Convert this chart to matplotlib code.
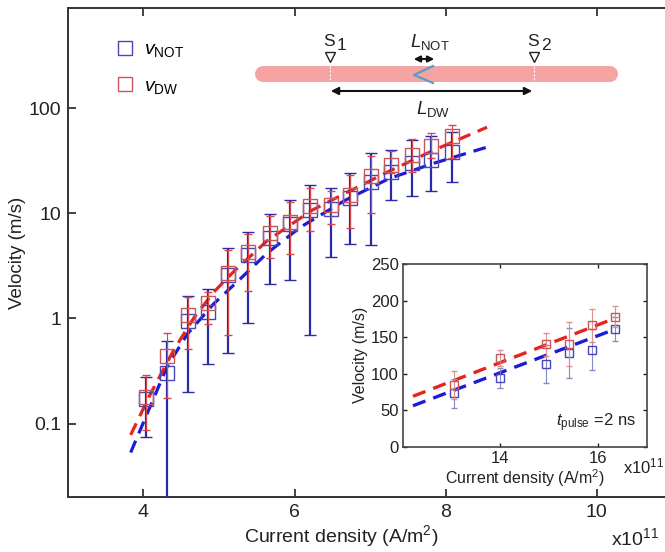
import numpy as np
import matplotlib
matplotlib.use("Agg")
import matplotlib.pyplot as plt
from matplotlib.lines import Line2D

plt.rcParams['font.family'] = ['Liberation Sans', 'DejaVu Sans']
plt.rcParams['mathtext.fontset'] = 'custom'
plt.rcParams['mathtext.rm'] = 'Liberation Sans'
plt.rcParams['mathtext.it'] = 'Liberation Sans:italic'

# ---- main panel data (current density in 1e11 A/m^2, velocity in m/s) ----
j_main = [4.03, 4.31, 4.59, 4.86, 5.12, 5.39, 5.67, 5.94, 6.20, 6.48, 6.74, 7.01, 7.28, 7.55, 7.81, 8.08]
v_dw   = [0.18, 0.44, 1.07, 1.39, 2.7, 4.3, 6.45, 8.3, 11.7, 12.0, 15.0, 22.5, 28.6, 35.7, 43.4, 54.0]
dw_hi  = [0.29, 0.72, 1.6, 1.8, 4.5, 6.3, 9.4, 12.8, 17.5, 16.5, 23.0, 35.0, 39.0, 51.0, 58.0, 70.0]
dw_lo  = [0.086, 0.176, 0.51, 0.89, 0.70, 1.82, 3.75, 4.07, 6.8, 8.0, 7.2, 10.0, 24.0, 25.0, 34.0, 34.0]
v_not  = [0.17, 0.30, 0.95, 1.15, 2.6, 4.0, 5.8, 8.0, 10.7, 11.0, 14.0, 20.0, 25.0, 30.0, 32.0, 38.0]
not_hi = [0.28, 0.61, 1.65, 1.89, 4.7, 6.6, 9.8, 13.3, 18.5, 17.6, 24.2, 37.3, 40.5, 50.3, 54.0, 59.0]
not_lo = [0.074, 0.005, 0.2, 0.365, 0.47, 0.91, 2.14, 2.33, 0.70, 3.83, 5.06, 5.0, 13.3, 14.5, 16.2, 19.9]

# fit curves
fit_j_dw  = [3.83, 4.09, 4.40, 4.67, 4.93, 5.20, 5.64, 6.23, 6.67, 7.25, 7.84, 8.55]
fit_v_dw  = [0.078, 0.19, 0.50, 1.02, 1.78, 2.82, 5.5, 10.7, 15.5, 25.1, 39.8, 66.0]
fit_j_not = [3.83, 4.31, 4.58, 4.93, 5.26, 5.64, 6.08, 6.67, 7.25, 7.84, 8.55]
fit_v_not = [0.053, 0.345, 0.71, 1.38, 2.3, 4.2, 7.4, 13.3, 21.4, 29.9, 42.7]

# ---- inset data (t_pulse = 2 ns) ----
j_ins     = [13.06, 14.0, 14.94, 15.41, 15.88, 16.36]
v_dw_ins  = [84, 121, 140, 140, 166, 178]
e_dw_ins  = [19, 11, 16, 30, 23, 14]
v_not_ins = [73, 94, 113, 128, 133, 161]
e_not_ins = [20, 14, 26, 34, 28, 17]
fit_j_ins     = [12.21, 16.36]
fit_v_dw_ins  = [69, 176]
fit_v_not_ins = [56, 161]

BLUE_LINE, BLUE_ERR, BLUE_MK = '#1c1cd8', '#2a2aa6', '#4646b4'
RED_LINE, RED_ERR, RED_MK = '#e8221e', '#d84848', '#cc5555'
W, H = 665, 552

fig = plt.figure(figsize=(W / 100, H / 100), dpi=100)

def fx(px):
    return px / W

def fy(py):
    return 1 - py / H

ax = fig.add_axes([fx(68), fy(497), fx(665) - fx(68), fy(8) - fy(497)])
ax.set_yscale('log')

ax.plot(fit_j_not, fit_v_not, '--', color=BLUE_LINE, lw=2.3, dashes=(4, 2.5), zorder=2)
ax.plot(fit_j_dw, fit_v_dw, '--', color=RED_LINE, lw=2.3, dashes=(4, 2.5), zorder=2)

v_not_a = np.array(v_not)
v_dw_a = np.array(v_dw)
ax.errorbar(j_main, v_not, yerr=[v_not_a - np.array(not_lo), np.array(not_hi) - v_not_a],
            fmt='s', ms=10, mfc='none', mec=BLUE_MK, mew=1.0, ecolor=BLUE_ERR,
            elinewidth=1.6, capsize=4, capthick=1.8, zorder=3)
ax.errorbar(j_main, v_dw, yerr=[v_dw_a - np.array(dw_lo), np.array(dw_hi) - v_dw_a],
            fmt='s', ms=10, mfc='none', mec=RED_MK, mew=1.0, ecolor=RED_ERR,
            elinewidth=0.8, capsize=3, capthick=1.0, zorder=4)

ax.set_xlim(3, 3 + (665 - 68) / 75.5)
ax.set_ylim(0.02, 900)
ax.set_xticks([4, 6, 8, 10])
ax.set_xticklabels(['4', '6', '8', '10'])
ax.set_yticks([0.1, 1, 10, 100])
ax.set_yticklabels(['0.1', '1', '10', '100'])
ax.minorticks_off()
ax.tick_params(direction='in', top=True, right=False, length=6, width=1.2,
               labelsize=14, colors='#222222', pad=5)
ax.spines['right'].set_visible(False)
for s in ['left', 'bottom', 'top']:
    ax.spines[s].set_linewidth(1.4)
    ax.spines[s].set_color('#333333')
ax.set_ylabel('Velocity (m/s)', fontsize=13.5, color='#222222', labelpad=2)
ax.set_xlabel('Current density (A/m$^2$)', fontsize=14, color='#222222')
ax.xaxis.set_label_coords(0.457, -0.054)
fig.text(fx(611), fy(538), r'x10$^{11}$', fontsize=14, color='#222222', va='center')

handles = [Line2D([], [], marker='s', ls='none', ms=10, mfc='none', mec=BLUE_MK),
           Line2D([], [], marker='s', ls='none', ms=10, mfc='none', mec=RED_MK)]
ax.legend(handles, [r'$v_{\mathrm{NOT}}$', r'$v_{\mathrm{DW}}$'], loc='upper left',
          bbox_to_anchor=(fx(112) - fx(68), 1 - 25 / 489), bbox_transform=ax.transAxes,
          frameon=False, fontsize=14, handletextpad=0.5, labelspacing=0.9,
          borderaxespad=0, handlelength=1.0)

# ---- schematic of the wire ----
fig.add_artist(Line2D([fx(263), fx(610)], [fy(74), fy(74)], lw=11.5, color='#f5a3a3',
                      solid_capstyle='round'))
for sx in [330, 534]:
    fig.add_artist(Line2D([fx(sx), fx(sx)], [fy(66), fy(82)], lw=0.8, color='white',
                          ls=(0, (2, 1.5))))
    fig.add_artist(Line2D([fx(sx)], [fy(57)], marker='v', ms=7, mfc='white', mec='#222222',
                          mew=1.0, ls='none'))
fig.text(fx(329), fy(42), 'S', fontsize=12.5, ha='center', va='center', color='#222222')
fig.text(fx(337), fy(45), '1', fontsize=12.5, ha='left', va='center', color='#222222')
fig.text(fx(533), fy(42), 'S', fontsize=12.5, ha='center', va='center', color='#222222')
fig.text(fx(541), fy(45), '2', fontsize=12.5, ha='left', va='center', color='#222222')
fig.add_artist(Line2D([fx(433), fx(414), fx(433)], [fy(66), fy(75), fy(83)], lw=1.6,
                      color='#5b9bc7'))
fig.add_artist(matplotlib.patches.FancyArrowPatch(
    (fx(411), fy(59)), (fx(437), fy(59)), transform=fig.transFigure,
    arrowstyle='<|-|>', mutation_scale=9, lw=1.5, color='#111111'))
fig.add_artist(matplotlib.patches.FancyArrowPatch(
    (fx(328), fy(91)), (fx(535), fy(91)), transform=fig.transFigure,
    arrowstyle='<|-|>', mutation_scale=11, lw=1.5, color='#111111'))
fig.text(fx(430), fy(42), r'$L_{\mathrm{NOT}}$', fontsize=13.5, ha='center', va='center',
         color='#222222')
fig.text(fx(433), fy(109), r'$L_{\mathrm{DW}}$', fontsize=13.5, ha='center', va='center',
         color='#222222')

# ---- inset ----
ins = fig.add_axes([fx(402.7), fy(446.7), fx(646.7) - fx(402.7), fy(264) - fy(446.7)])
ins.plot(fit_j_ins, fit_v_not_ins, '--', color=BLUE_LINE, lw=2.4, dashes=(4, 2.5), zorder=2)
ins.plot(fit_j_ins, fit_v_dw_ins, '--', color=RED_LINE, lw=2.4, dashes=(4, 2.5), zorder=2)
ins.errorbar(j_ins, v_not_ins, yerr=e_not_ins, fmt='s', ms=6, mfc='none', mec=BLUE_MK,
             mew=1.0, ecolor='#8888c8', elinewidth=0.8, capsize=2, capthick=0.8, zorder=3)
ins.errorbar(j_ins, v_dw_ins, yerr=e_dw_ins, fmt='s', ms=6, mfc='none', mec=RED_MK,
             mew=1.0, ecolor='#e09090', elinewidth=0.8, capsize=2, capthick=0.8, zorder=4)
ins.set_xlim(12, 17)
ins.set_ylim(0, 250)
ins.set_xticks([14, 16])
ins.set_yticks([0, 50, 100, 150, 200, 250])
ins.tick_params(direction='in', top=True, right=True, length=3, width=1.0,
                labelsize=12, colors='#222222', pad=3)
for s in ins.spines.values():
    s.set_linewidth(1.2)
    s.set_color('#444444')
ins.set_ylabel('Velocity (m/s)', fontsize=11.5, color='#222222', labelpad=2)
ins.set_xlabel('Current density (A/m$^2$)', fontsize=11.5, color='#222222', labelpad=1)
ins.text(0.63, 0.13, r'$t_{\mathrm{pulse}}$ =2 ns', transform=ins.transAxes,
         fontsize=12, color='#222222', va='center')
fig.text(fx(623), fy(466), r'x10$^{11}$', fontsize=12, color='#222222', va='center')

fig.savefig('out.png', dpi=100)
